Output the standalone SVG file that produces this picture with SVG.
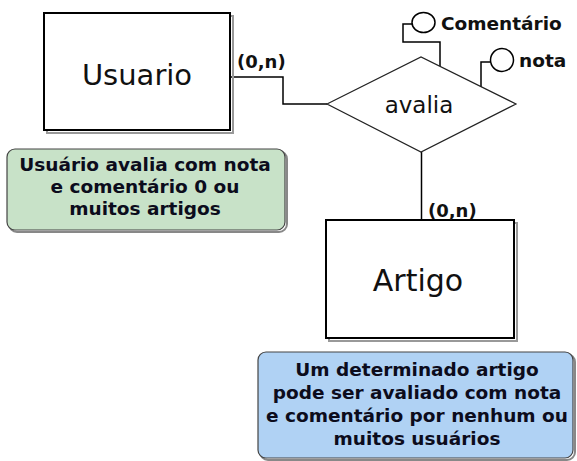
<svg xmlns="http://www.w3.org/2000/svg" width="577" height="461" viewBox="0 0 577 461">
<style>
.ent{fill:#fff;stroke:#000;stroke-width:2}
.shadow{fill:none;stroke:#999;stroke-width:2}
.title{font-family:"DejaVu Sans",Verdana,sans-serif;fill:#111;text-anchor:middle}
.bold{font-family:"DejaVu Sans","Liberation Sans",sans-serif;font-weight:bold;fill:#111}
.note{font-family:"DejaVu Sans","Liberation Sans",sans-serif;font-weight:bold;fill:#0c0c1c;font-size:18.5px;text-anchor:middle}
.line{fill:none;stroke:#000;stroke-width:1.5}
.attr{fill:#fff;stroke:#000;stroke-width:1.5}
</style>
<rect width="577" height="461" fill="#fff"/>
<g id="connectors">
<polyline class="line" points="231,77 283,77 283,104 327,104"/>
<polyline class="line" points="421.5,152 421.5,220"/>
<polyline class="line" points="412,24 403,24 403,42 440,42 440,66"/>
<polyline class="line" points="491,62 481,62 481,121"/>
</g>
<g id="usuario">
<rect x="47" y="16" width="186" height="117" class="shadow"/>
<rect x="44" y="13" width="186" height="117" class="ent"/>
<text x="137" y="85" class="title" font-size="29">Usuario</text>
</g>
<g id="artigo">
<rect x="329" y="223" width="188" height="118" class="shadow"/>
<rect x="326" y="220" width="188" height="118" class="ent"/>
<text x="418" y="291" class="title" font-size="30">Artigo</text>
</g>
<g id="avalia">
<polygon points="327,104 421,57 516,104 421,152" fill="#fff" stroke="#222" stroke-width="1.2"/>
<text x="419" y="113" class="title" font-size="23">avalia</text>
</g>
<g id="comentario">
<ellipse cx="423.5" cy="22.5" rx="11.5" ry="10" class="attr"/>
<text x="441" y="30" class="bold" font-size="18.5">Comentário</text>
</g>
<g id="nota">
<ellipse cx="502" cy="60" rx="11.5" ry="11.5" class="attr"/>
<text x="519" y="67" class="bold" font-size="18.5">nota</text>
</g>
<g id="card-usuario">
<text x="237" y="68" class="bold" font-size="18">(0,n)</text>
</g>
<g id="card-artigo">
<text x="428" y="217" class="bold" font-size="18">(0,n)</text>
</g>
<g id="note-green">
<rect x="9" y="151" width="278" height="81" rx="8" fill="none" stroke="#888" stroke-width="2"/>
<rect x="7" y="149" width="278" height="81" rx="8" fill="#c8e2c8" stroke="#444" stroke-width="1.2"/>
<text class="note"><tspan x="145" y="171">Usuário avalia com nota</tspan><tspan x="145" y="193">e comentário 0 ou</tspan><tspan x="145" y="215">muitos artigos</tspan></text>
</g>
<g id="note-blue">
<rect x="260" y="354" width="315" height="106" rx="8" fill="none" stroke="#888" stroke-width="2"/>
<rect x="258" y="352" width="315" height="106" rx="8" fill="#b0d2f4" stroke="#444" stroke-width="1.2"/>
<text class="note"><tspan x="417" y="376">Um determinado artigo</tspan><tspan x="417" y="399">pode ser avaliado com nota</tspan><tspan x="417" y="422">e comentário por nenhum ou</tspan><tspan x="417" y="445">muitos usuários</tspan></text>
</g>
</svg>
